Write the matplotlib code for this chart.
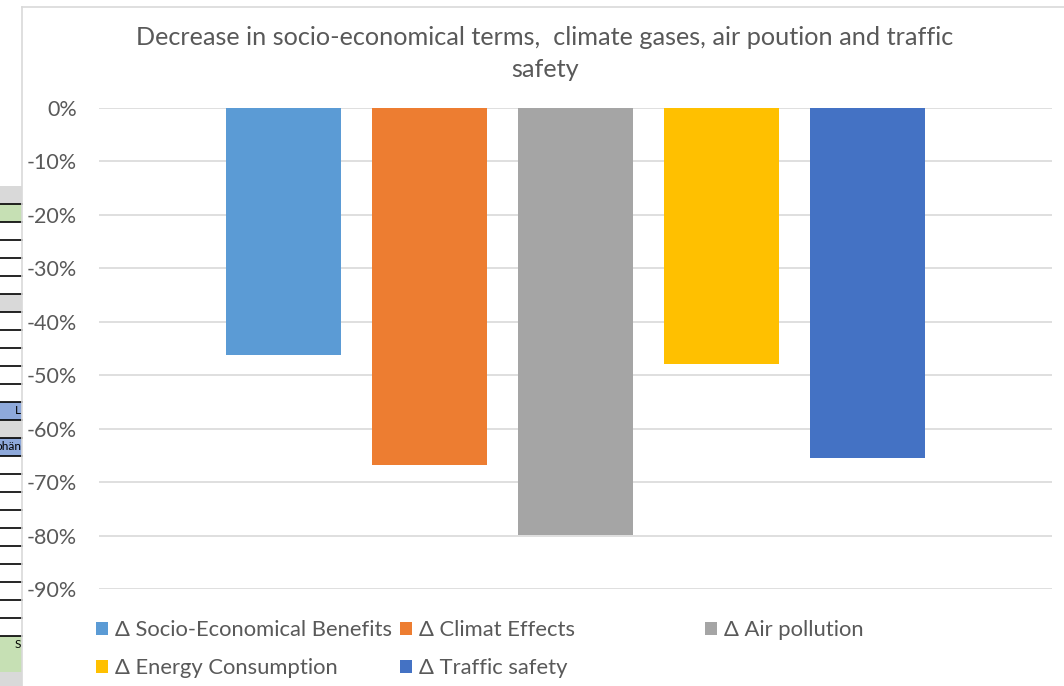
import numpy as np
import matplotlib.pyplot as plt
from matplotlib.patches import Rectangle

plt.rcParams['font.family'] = ['Lato', 'DejaVu Sans']

labels = ["Δ Socio-Economical Benefits", "Δ Climat Effects", "Δ Air pollution",
          "Δ Energy Consumption", "Δ Traffic safety"]
values = [-0.462, -0.668, -0.799, -0.479, -0.655]
colors = ["#5B9BD5", "#ED7D31", "#A5A5A5", "#FFC000", "#4472C4"]
yticks = [0, -0.1, -0.2, -0.3, -0.4, -0.5, -0.6, -0.7, -0.8, -0.9]

# spreadsheet cells visible behind the chart on the left
cell_fills = ["#D9D9D9", "#C6E0B4"] + ["white"] * 4 + ["#D9D9D9"] + ["white"] * 5 + \
             ["#8EA9DB", "#D9D9D9", "#8EA9DB"] + ["white"] * 10 + ["#C6E0B4", "#C6E0B4", "#D9D9D9"]
cell_text = {12: "L", 14: "ohän", 25: "S"}

W, H = 1064, 686
fig = plt.figure(figsize=(W / 100, H / 100), dpi=100)

bg = fig.add_axes([0, 0, 1, 1], zorder=0)
bg.set_xlim(0, W)
bg.set_ylim(H, 0)
bg.axis("off")
for i, fc in enumerate(cell_fills):
    y0 = 186 + 18 * i
    cell = Rectangle((0, y0), 22, 18, facecolor=fc, edgecolor="none")
    bg.add_patch(cell)
    if 1 <= i <= 25:
        bg.plot([0, 22], [y0, y0], color="black", lw=1.2)
    if i in cell_text:
        t = bg.text(21, y0 + 9, cell_text[i], ha="right", va="center", fontsize=8.5,
                    color="black")
        t.set_clip_path(cell)
bg.plot([22, 22], [7, H], color="#D9D9D9", lw=1.2)
bg.plot([22, W], [7, 7], color="#D9D9D9", lw=1.2)

ax = fig.add_axes([99 / W, 1 - 589 / H, 953 / W, 481 / H], zorder=1)
ax.patch.set_alpha(0)
x = np.arange(len(values))
bars = []
for i in range(len(values)):
    b = ax.bar(x[i], values[i], width=0.788, color=colors[i], label=labels[i], zorder=2)
    bars.append(b)

ax.set_xlim(2 - 476.5 / 146, 2 + 476.5 / 146)
ax.set_ylim(-0.9, 0)
ax.set_yticks(yticks)
ax.set_yticklabels([f"{round(v * 100)}%" for v in yticks], fontsize=15.5, color="#595959")
ax.set_xticks([])
ax.tick_params(axis="y", length=0, pad=16)
ax.grid(axis="y", color="#D9D9D9", lw=1.2, zorder=0)
for s in ax.spines.values():
    s.set_visible(False)

fig.text(545 / W, 1 - 53.5 / H,
         "Decrease in socio-economical terms,  climate gases, air poution and traffic\nsafety",
         ha="center", va="center", multialignment="center", fontsize=18.2,
         color="#595959", linespacing=1.45)

# legend laid out in three columns like the original
legend_cols = [([0, 3], 96), ([1, 4], 400), ([2], 705)]
for idx, xpx in legend_cols:
    leg = fig.legend([bars[k] for k in idx], [labels[k] for k in idx],
                     loc="upper left", bbox_to_anchor=(xpx / W, 1 - 620 / H),
                     frameon=False, fontsize=15.8, labelcolor="#595959",
                     handlelength=0.55, handleheight=0.55, handletextpad=0.32,
                     labelspacing=0.82, borderpad=0, borderaxespad=0)

fig.savefig("out.png", dpi=100)
